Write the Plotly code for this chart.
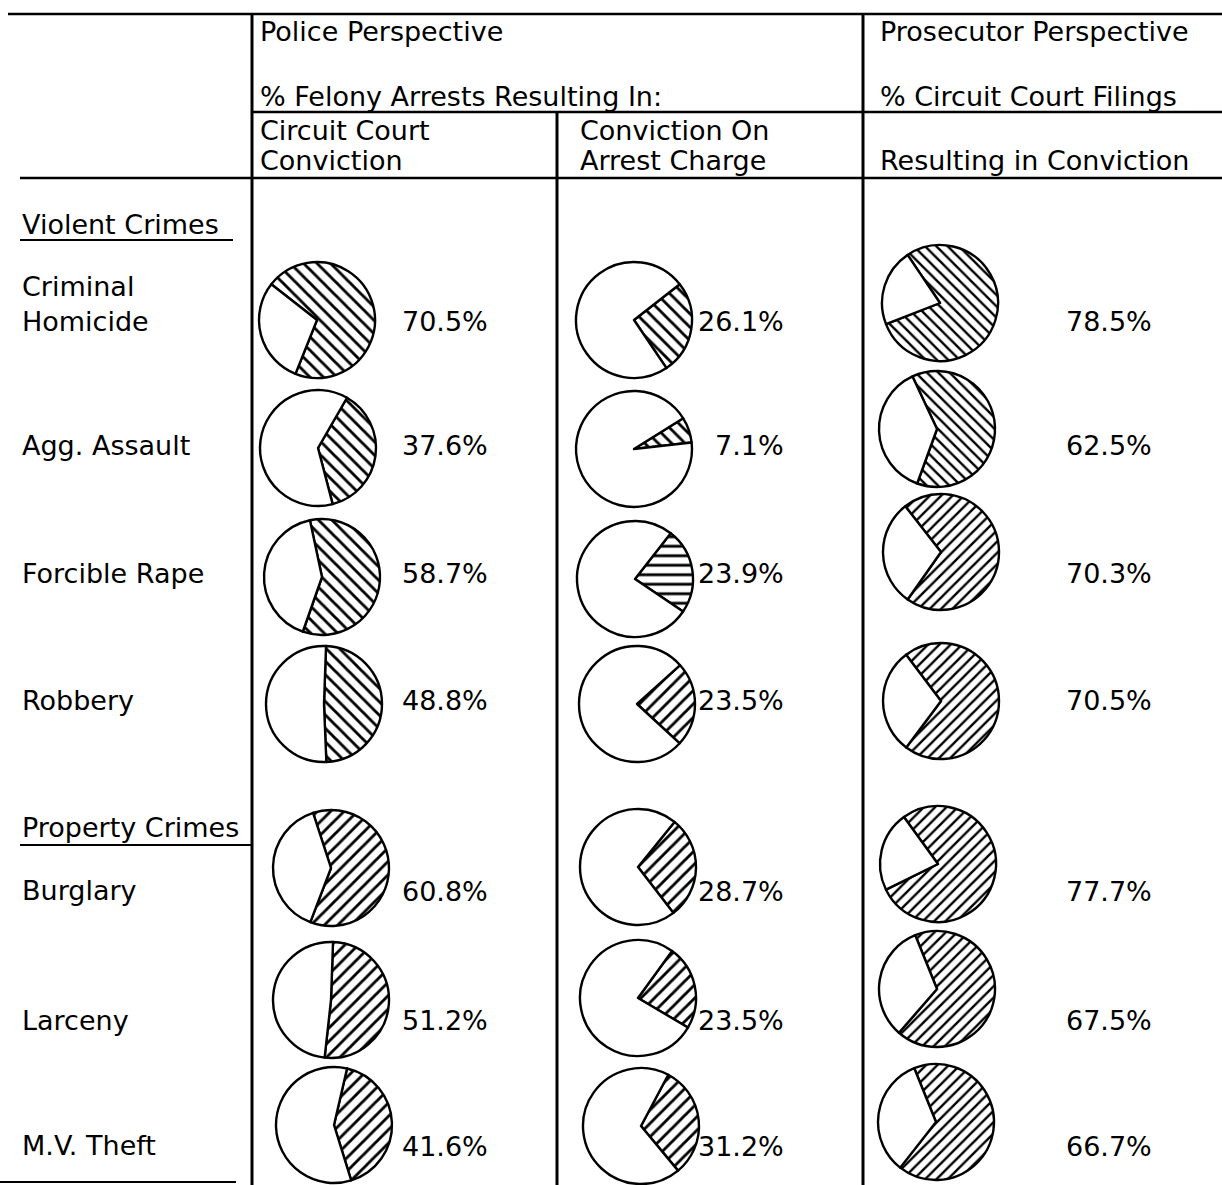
import plotly.graph_objects as go

W, H = 1222, 1185

# ---------------- data ----------------
crimes = ["Criminal<br>Homicide", "Agg. Assault", "Forcible Rape", "Robbery",
          "Burglary", "Larceny", "M.V. Theft"]
circuit_court_conviction = [70.5, 37.6, 58.7, 48.8, 60.8, 51.2, 41.6]
conviction_on_arrest_charge = [26.1, 7.1, 23.9, 23.5, 28.7, 23.5, 31.2]
filings_resulting_in_conviction = [78.5, 62.5, 70.3, 70.5, 77.7, 67.5, 66.7]
group_labels = ["Violent Crimes", "Property Crimes"]

# ---------------- styling / layout ----------------
FONT = "DejaVu Sans"
FS = 27
col_series = [circuit_court_conviction, conviction_on_arrest_charge,
              filings_resulting_in_conviction]
hatch = [
    ["\\", "\\", "\\", "\\", "/", "/", "/"],
    ["\\", "\\", "-", "/", "/", "/", "/"],
    ["\\", "\\", "/", "/", "/", "/", "/"],
]
hatch_size = [9.5, 9.5, 8]
rotations = [
    [-52, 30, -12, 2, -18, 2, 13],
    [52, 58, 38, 48, 39, 36, 28],
    [-34, -25, -38, -37, -36, -22, -22],
]
pie_cx = [
    [317, 318, 322, 324, 331, 331, 334],
    [634, 634, 635, 637, 638, 638, 641],
    [940, 937, 941, 941, 938, 937, 936],
]
pie_cy = [
    [320, 448, 577, 704, 868, 1000, 1125],
    [320, 449, 579, 704, 867, 998, 1126],
    [303, 429, 552, 701, 864, 989, 1122],
]
R = 58
label_y = [321, 445, 573, 700, 891, 1020, 1146]
row_label_y = [304, 445, 573, 700, 890, 1020, 1145]


def px(x):
    return x / W


def py(y):
    return 1 - y / H


fig = go.Figure()

for c, series in enumerate(col_series):
    for r, v in enumerate(series):
        cx, cy = pie_cx[c][r], pie_cy[c][r]
        fig.add_trace(go.Pie(
            values=[v, 100 - v],
            labels=["yes", "no"],
            sort=False,
            direction="clockwise",
            rotation=rotations[c][r],
            textinfo="none",
            hoverinfo="skip",
            showlegend=False,
            domain=dict(x=[px(cx - R), px(cx + R)], y=[py(cy + R), py(cy - R)]),
            marker=dict(
                colors=["white", "white"],
                line=dict(color="black", width=2.4),
                pattern=dict(shape=[hatch[c][r], ""], fgcolor="black",
                             bgcolor="white", size=hatch_size[c], solidity=0.3),
            ),
        ))

ann = []


def text(x, y, s, xanchor="left", size=FS):
    ann.append(dict(x=px(x), y=py(y), xref="paper", yref="paper", text=s,
                    showarrow=False, xanchor=xanchor, yanchor="middle",
                    align="left",
                    font=dict(family=FONT, size=size, color="black")))


# percentage labels
for r, v in enumerate(circuit_court_conviction):
    text(400, label_y[r], f"{v:.1f}%")
for r, v in enumerate(conviction_on_arrest_charge):
    text(786, label_y[r], f"{v:.1f}%", xanchor="right")
for r, v in enumerate(filings_resulting_in_conviction):
    text(1109, label_y[r], f"{v:.1f}%", xanchor="center")

# row labels
for r, name in enumerate(crimes):
    text(20, row_label_y[r], name)
text(20, 224, group_labels[0])
text(20, 828, group_labels[1])

# headers
text(258, 32, "Police Perspective")
text(258, 97, "% Felony Arrests Resulting In:")
text(258, 130, "Circuit Court")
text(258, 160, "Conviction")
text(578, 130, "Conviction On")
text(578, 160, "Arrest Charge")
text(878, 32, "Prosecutor Perspective")
text(878, 97, "% Circuit Court Filings")
text(878, 160, "Resulting in Conviction")

shapes = []


def line(x0, y0, x1, y1, w=2.5, color="black"):
    shapes.append(dict(type="line", xref="paper", yref="paper",
                       x0=px(x0), y0=py(y0), x1=px(x1), y1=py(y1),
                       line=dict(color=color, width=w)))


line(8, 14, 1222, 14, 2.5)
line(252, 112, 1222, 112, 2.5)
line(20, 178, 1222, 178, 2.5)
line(252, 14, 252, 1185, 3)
line(557, 112, 557, 1185, 3)
line(863, 14, 863, 1185, 3)
line(0, 1182, 236, 1182, 2)
# underlines of group labels
line(20, 240, 233, 240, 2)
line(20, 845, 252, 845, 2)

fig.update_layout(
    width=W, height=H,
    margin=dict(l=0, r=0, t=0, b=0),
    paper_bgcolor="white", plot_bgcolor="white",
    annotations=ann, shapes=shapes,
)

fig.write_html("out.html",
               config={"displayModeBar": False},
               post_script="document.body.style.margin='0px';document.body.style.overflow='hidden';")
